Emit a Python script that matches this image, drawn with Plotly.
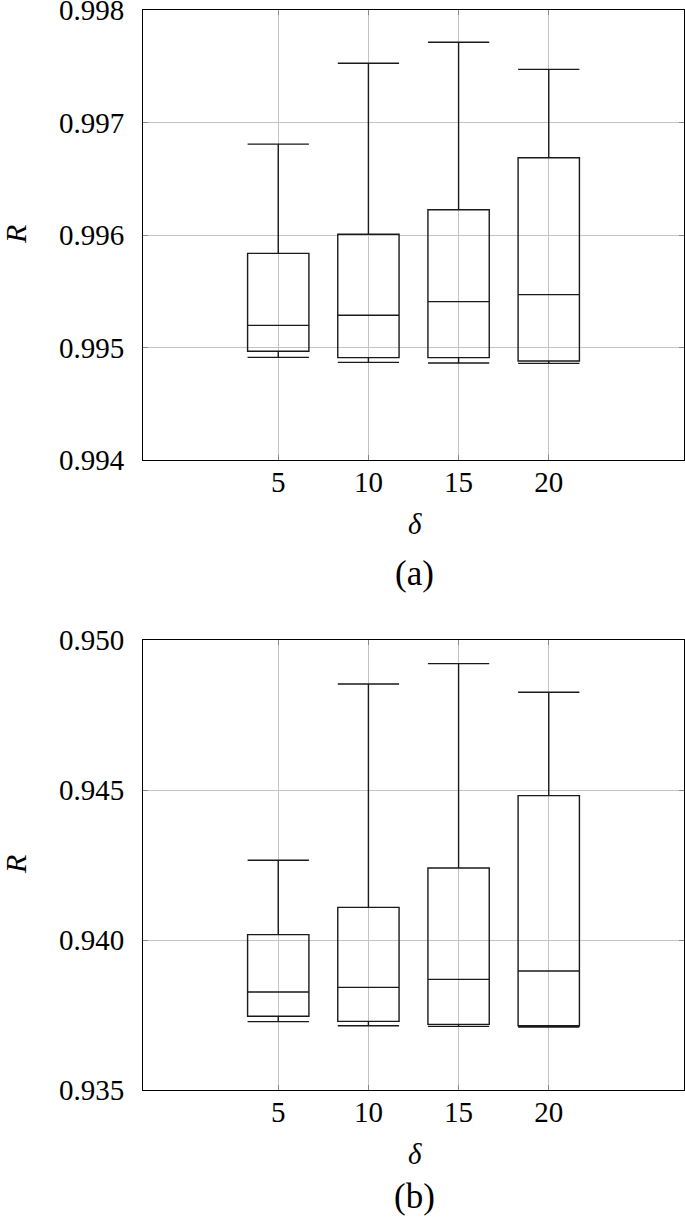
import plotly.graph_objects as go
from plotly.subplots import make_subplots

delta = [5, 10, 15, 20]

# Panel (a)
a_lower = [0.994912, 0.994868, 0.994862, 0.994859]
a_q1 = [0.994966, 0.994910, 0.994910, 0.994880]
a_median = [0.995197, 0.995286, 0.995408, 0.995470]
a_q3 = [0.995837, 0.996007, 0.996224, 0.996686]
a_upper = [0.996808, 0.997526, 0.997713, 0.997472]

# Panel (b)
b_lower = [0.937278, 0.937144, 0.937122, 0.937100]
b_q1 = [0.937456, 0.937289, 0.937189, 0.937144]
b_median = [0.938267, 0.938422, 0.938689, 0.938967]
b_q3 = [0.940178, 0.941089, 0.942400, 0.944811]
b_upper = [0.942656, 0.948533, 0.949211, 0.948256]

a_ticks = [0.994, 0.995, 0.996, 0.997, 0.998]
b_ticks = [0.935, 0.940, 0.945, 0.950]

FONT = "Liberation Serif"
FS = 29

fig = make_subplots(rows=2, cols=1, vertical_spacing=0.0)

def add_box(row, lo, q1, med, q3, up):
    fig.add_trace(go.Box(
        x=delta, q1=q1, median=med, q3=q3, lowerfence=lo, upperfence=up,
        width=3.4, whiskerwidth=1.0,
        line=dict(color="#1a1a1a", width=1.4),
        fillcolor="rgba(0,0,0,0)", boxpoints=False, showlegend=False,
        hoverinfo="skip",
    ), row=row, col=1)

add_box(1, a_lower, a_q1, a_median, a_q3, a_upper)
add_box(2, b_lower, b_q1, b_median, b_q3, b_upper)

axis_common = dict(
    showline=True, linecolor="black", linewidth=1, mirror="ticks",
    ticks="inside", ticklen=5, tickcolor="#888888",
    showgrid=True, gridcolor="#c4c4c4", gridwidth=1,
    zeroline=False, automargin=False, ticklabeloverflow="allow",
    tickfont=dict(family=FONT, size=FS, color="black"),
)

for r in (1, 2):
    fig.update_xaxes(range=[-2.5, 27.5], tickvals=delta, ticktext=[str(d) for d in delta],
                     ticklabelstandoff=-4, row=r, col=1, **axis_common)

fig.update_yaxes(range=[0.994, 0.998], tickvals=a_ticks, tickformat=".3f",
                 ticklabelstandoff=12, row=1, col=1, **axis_common)
fig.update_yaxes(range=[0.935, 0.950], tickvals=b_ticks, tickformat=".3f",
                 ticklabelstandoff=12, row=2, col=1, **axis_common)

H = 1080.0
fig.update_layout(
    width=685, height=1219,
    margin=dict(l=143, r=1, t=10, b=129, autoexpand=False),
    plot_bgcolor="white", paper_bgcolor="white",
    font=dict(family=FONT, size=FS, color="black"),
    yaxis=dict(domain=[630 / H, 1.0]),
    yaxis2=dict(domain=[0.0, 450 / H]),
    xaxis=dict(domain=[0, 1]),
    xaxis2=dict(domain=[0, 1]),
)

W = 541.0
def px_x(px):
    return (px - 143) / W

def px_y(py):
    return (1090 - py) / H

anns = [
    dict(text="<i>R</i>", x=px_x(15), y=px_y(235), textangle=-90, size=30),
    dict(text="<i>R</i>", x=px_x(15), y=px_y(865), textangle=-90, size=30),
    dict(text="<i>δ</i>", x=px_x(415), y=px_y(524), size=29),
    dict(text="<i>δ</i>", x=px_x(415), y=px_y(1154), size=29),
    dict(text="(a)", x=px_x(414), y=px_y(573), size=35),
    dict(text="(b)", x=px_x(414), y=px_y(1196), size=35),
]
for a in anns:
    sz = a.pop("size")
    fig.add_annotation(xref="paper", yref="paper", showarrow=False,
                       xanchor="center", yanchor="middle",
                       font=dict(family=FONT, size=sz, color="black"), **a)

fig.write_html("out.html", config={"displayModeBar": False},
               post_script="document.body.style.margin='0';document.body.style.overflow='hidden';document.documentElement.style.overflow='hidden';")
